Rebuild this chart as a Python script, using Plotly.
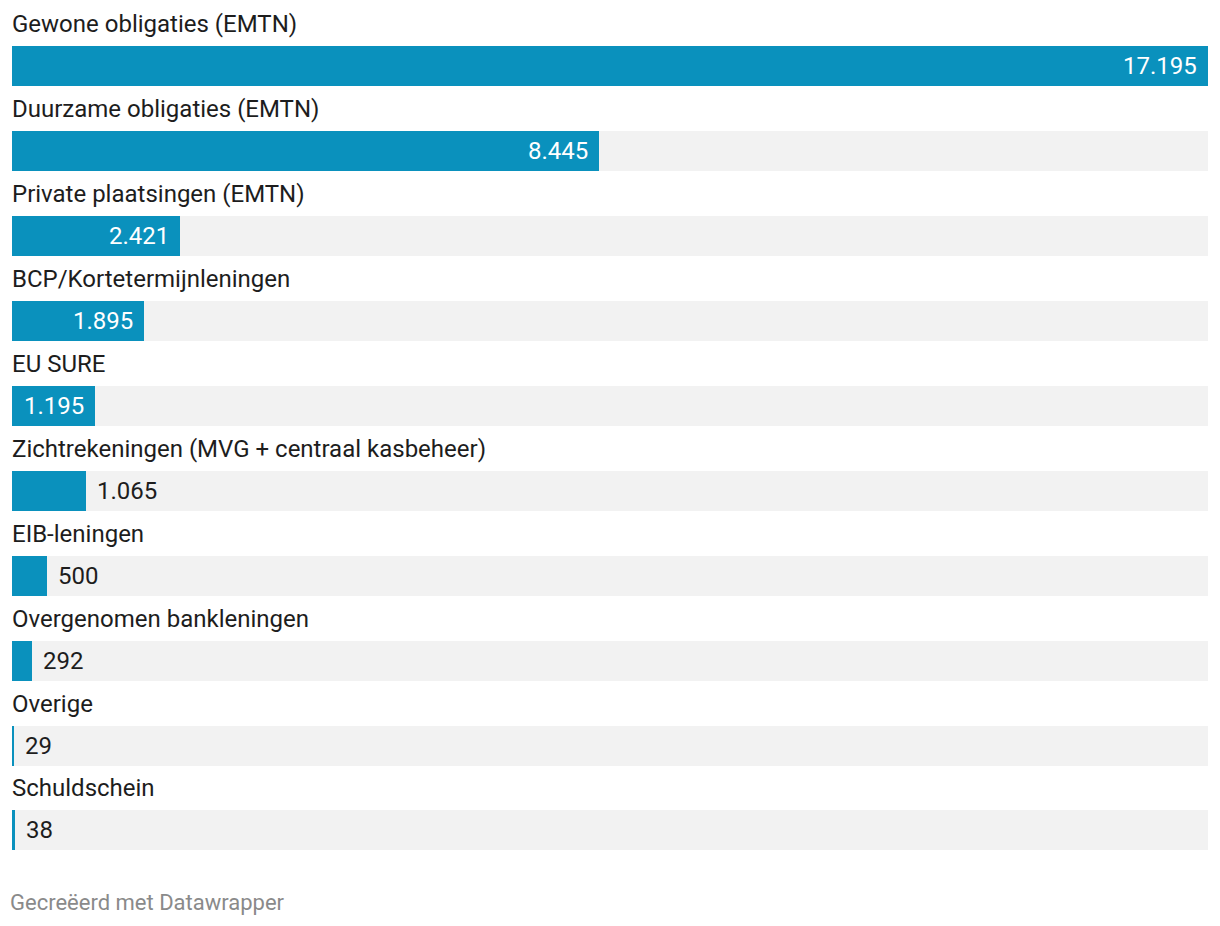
import plotly.graph_objects as go

categories = [
    "Gewone obligaties (EMTN)",
    "Duurzame obligaties (EMTN)",
    "Private plaatsingen (EMTN)",
    "BCP/Kortetermijnleningen",
    "EU SURE",
    "Zichtrekeningen (MVG + centraal kasbeheer)",
    "EIB-leningen",
    "Overgenomen bankleningen",
    "Overige",
    "Schuldschein",
]
values = [17195, 8445, 2421, 1895, 1195, 1065, 500, 292, 29, 38]

BAR = "#0a91bd"
BG = "#f2f2f2"
TXT = "#1d1d1d"
FONT = "Roboto, sans-serif"
FS = 24

OFF = 8  # default page body margin
W, H = 1220 - 2 * OFF, 926 - 2 * OFF
left_px, right_px = 12 - OFF, 12 - OFF
row_px = 84.9
first_center = 66.3 - OFF
bar_px = 40

vmax = max(values)
n = len(categories)
rows = list(range(n))
ytop = -first_center / row_px
ybot = (H - first_center) / row_px

def fmt(v):
    return f"{v:,}".replace(",", ".")

fig = go.Figure()
fig.add_trace(go.Bar(
    y=rows, x=[vmax] * n, orientation="h", marker=dict(color=BG, line=dict(width=0)),
    width=bar_px / row_px, hoverinfo="skip", showlegend=False,
))
fig.add_trace(go.Bar(
    y=rows, x=values, orientation="h", marker=dict(color=BAR, line=dict(width=0)),
    width=bar_px / row_px, hoverinfo="skip", showlegend=False,
))

annotations = []
plot_w = W - left_px - right_px
for i, (c, v) in enumerate(zip(categories, values)):
    annotations.append(dict(
        x=0, y=i, xref="x", yref="y", text=c, showarrow=False,
        xanchor="left", yanchor="middle", yshift=42, xshift=-2,
        font=dict(family=FONT, size=FS, color=TXT),
    ))
    label = fmt(v)
    bw = v / vmax * plot_w
    tw = len(label) * 12
    if bw >= tw + 20:
        annotations.append(dict(
            x=v, y=i, xref="x", yref="y", text=label, showarrow=False,
            xanchor="right", yanchor="middle", xshift=-9,
            font=dict(family=FONT, size=FS, color="#ffffff"),
        ))
    else:
        annotations.append(dict(
            x=v, y=i, xref="x", yref="y", text=label, showarrow=False,
            xanchor="left", yanchor="middle", xshift=9,
            font=dict(family=FONT, size=FS, color=TXT),
        ))

annotations.append(dict(
    x=(10 - OFF) / W, y=1 - (902 - OFF) / H, xref="paper", yref="paper",
    text="Gecreëerd met Datawrapper",
    showarrow=False, xanchor="left", yanchor="middle", xshift=-6,
    font=dict(family=FONT, size=22, color="#8a8a8a"),
))

fig.update_layout(
    width=W, height=H,
    margin=dict(l=left_px, r=right_px, t=0, b=0),
    paper_bgcolor="white", plot_bgcolor="white",
    barmode="overlay", bargap=0,
    xaxis=dict(range=[0, vmax], visible=False, fixedrange=True),
    yaxis=dict(range=[ybot, ytop], visible=False, fixedrange=True),
    annotations=annotations,
)

fig.write_html("out.html")
